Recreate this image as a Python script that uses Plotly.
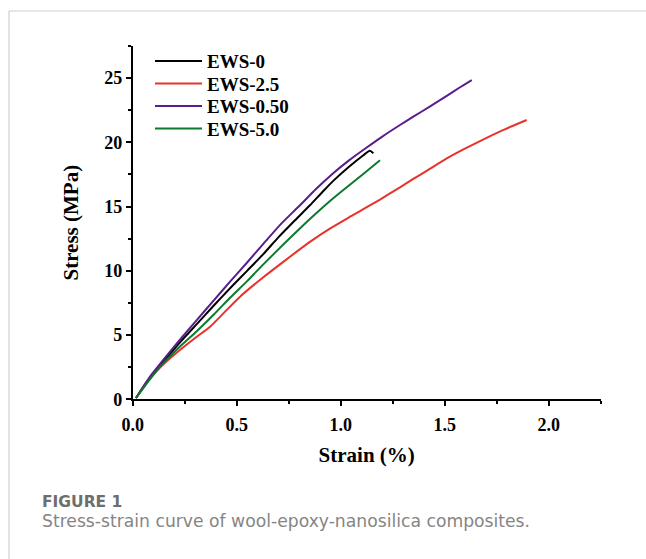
import plotly.graph_objects as go

W, H = 646, 559

series_names = ["EWS-0", "EWS-2.5", "EWS-0.50", "EWS-5.0"]
series_colors = ["#000000", "#E8322B", "#5A1E8C", "#0B7A2E"]

ews0_strain = [0.016, 0.08, 0.147, 0.22, 0.308, 0.39, 0.468, 0.55, 0.628, 0.70, 0.772,
               0.852, 0.91, 0.964, 1.04, 1.109, 1.14, 1.157]
ews0_stress = [0.1, 1.6, 2.9, 4.3, 5.85, 7.3, 8.64, 10.0, 11.3, 12.6, 13.8,
               15.1, 16.1, 17.0, 18.1, 19.0, 19.35, 19.15]

ews25_strain = [0.016, 0.06, 0.115, 0.17, 0.227, 0.308, 0.372, 0.436, 0.516, 0.628, 0.724,
                0.852, 0.95, 1.05, 1.125, 1.189, 1.285, 1.349, 1.43, 1.51, 1.59, 1.67,
                1.78, 1.894]
ews25_stress = [0.1, 1.2, 2.2, 3.05, 3.84, 4.87, 5.65, 6.69, 7.99, 9.5, 10.7,
                12.25, 13.3, 14.25, 14.95, 15.55, 16.5, 17.15, 17.95, 18.75, 19.45, 20.1,
                20.95, 21.74]

ews050_strain = [0.016, 0.08, 0.147, 0.22, 0.308, 0.39, 0.468, 0.55, 0.628, 0.71, 0.804,
                 0.88, 0.964, 1.04, 1.125, 1.2, 1.285, 1.349, 1.43, 1.51, 1.57, 1.63]
ews050_stress = [0.1, 1.7, 3.06, 4.5, 6.17, 7.7, 9.16, 10.65, 12.1, 13.6, 15.1,
                 16.35, 17.6, 18.6, 19.6, 20.45, 21.35, 22.0, 22.8, 23.62, 24.25, 24.85]

ews50_strain = [0.016, 0.08, 0.147, 0.22, 0.308, 0.39, 0.468, 0.55, 0.628, 0.724, 0.82,
                0.877, 0.95, 1.029, 1.11, 1.189]
ews50_stress = [0.1, 1.5, 2.8, 4.0, 5.3, 6.6, 7.9, 9.2, 10.5, 12.05, 13.55,
                14.4, 15.45, 16.5, 17.55, 18.6]

x_tick_vals = [0.0, 0.5, 1.0, 1.5, 2.0]
x_tick_text = ["0.0", "0.5", "1.0", "1.5", "2.0"]
y_tick_vals = [0, 5, 10, 15, 20, 25]
y_tick_text = ["0", "5", "10", "15", "20", "25"]

x_title = "Strain (%)"
y_title = "Stress (MPa)"
caption_head = "FIGURE 1"
caption_text = "Stress-strain curve of wool-epoxy-nanosilica composites."

xs = [ews0_strain, ews25_strain, ews050_strain, ews50_strain]
ys = [ews0_stress, ews25_stress, ews050_stress, ews50_stress]

serif = "Liberation Serif, Times New Roman, serif"
sans = "DejaVu Sans, Noto Sans, sans-serif"

# legend rows (pixel centres from the top of the figure)
legend_row_centres = [61.7, 84.2, 106.7, 129.2]
legend_keys = ["legend", "legend2", "legend3", "legend4"]

fig = go.Figure()
for name, color, x, y, lg in zip(series_names, series_colors, xs, ys, legend_keys):
    fig.add_trace(go.Scatter(x=x, y=y, mode="lines", name=name, legend=lg,
                             line=dict(color=color, width=2, shape="spline", smoothing=0.6)))

# plot area in pixels
px0, px1 = 132.7, 600.7
py0, py1 = 46.0, 399.3

axis_common = dict(
    showgrid=False, zeroline=False, showline=True, linecolor="black", linewidth=1.5,
    ticks="outside", tickcolor="black", tickwidth=1.5, ticklen=5,
    tickfont=dict(family=serif, size=18, color="black", weight="bold"),
    automargin=False,
)

legend_style = dict(
    x=150 / W, xanchor="left", yanchor="top",
    bgcolor="rgba(0,0,0,0)", borderwidth=0,
    font=dict(family=serif, size=19, color="black", weight="bold"),
    itemwidth=47,
)
layout_legends = {}
for lg, c in zip(legend_keys, legend_row_centres):
    layout_legends[lg] = dict(y=1 - (c - 19.5) / H, **legend_style)

fig.update_layout(
    width=W, height=H,
    margin=dict(l=0, r=0, t=0, b=0),
    paper_bgcolor="white", plot_bgcolor="white",
    showlegend=True,
    xaxis=dict(
        domain=[px0 / W, px1 / W], range=[0, 2.25],
        tickmode="array", tickvals=x_tick_vals, ticktext=x_tick_text,
        ticklabelstandoff=3,
        minor=dict(ticks="outside", dtick=0.25, tick0=0, ticklen=3, tickwidth=1.5, tickcolor="black"),
        title=dict(text=x_title, font=dict(family=serif, size=21, color="black", weight="bold"),
                   standoff=14),
        **axis_common,
    ),
    yaxis=dict(
        domain=[1 - py1 / H, 1 - py0 / H], range=[0, 27.5],
        tickmode="array", tickvals=y_tick_vals, ticktext=y_tick_text,
        minor=dict(ticks="outside", dtick=2.5, tick0=0, ticklen=3, tickwidth=1.5, tickcolor="black"),
        title=dict(text=y_title, font=dict(family=serif, size=21, color="black", weight="bold"),
                   standoff=20),
        **axis_common,
    ),
    **layout_legends,
)

# card border (top and left)
fig.add_shape(type="line", xref="paper", yref="paper",
              x0=9 / W, x1=1, y0=1 - 11 / H, y1=1 - 11 / H,
              line=dict(color="#cfcfcf", width=1.2))
fig.add_shape(type="line", xref="paper", yref="paper",
              x0=9 / W, x1=9 / W, y0=0, y1=1 - 11 / H,
              line=dict(color="#cfcfcf", width=1.2))

fig.add_annotation(text=caption_head, xref="paper", yref="paper",
                   x=40 / W, y=1 - 501.5 / H, xanchor="left", yanchor="middle",
                   showarrow=False,
                   font=dict(family=sans, size=15.5, color="#6e6e6e", weight="bold"))
fig.add_annotation(text=caption_text, xref="paper", yref="paper",
                   x=40 / W, y=1 - 521 / H, xanchor="left", yanchor="middle",
                   showarrow=False,
                   font=dict(family=sans, size=17.2, color="#858585"))

fig.write_html("out.html")
